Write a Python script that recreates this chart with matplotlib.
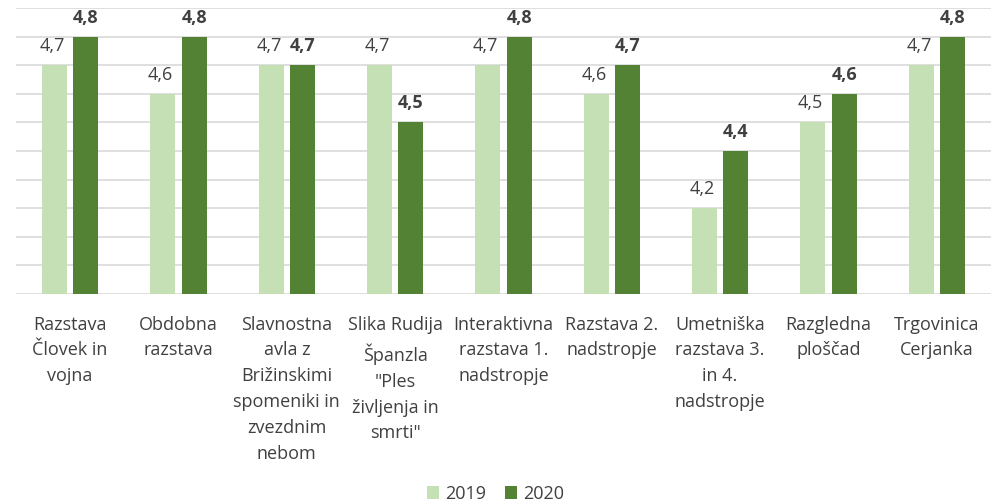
import matplotlib.pyplot as plt
import numpy as np

plt.rcParams['font.family'] = ['Open Sans', 'DejaVu Sans']

categories = ["Razstava\nČlovek in\nvojna", "Obdobna\nrazstava",
              "Slavnostna\navla z\nBrižinskimi\nspomeniki in\nzvezdnim\nnebom",
              "Slika Rudija\nŠpanzla\n\"Ples\nživljenja in\nsmrti\"",
              "Interaktivna\nrazstava 1.\nnadstropje", "Razstava 2.\nnadstropje",
              "Umetniška\nrazstava 3.\nin 4.\nnadstropje", "Razgledna\nploščad",
              "Trgovinica\nCerjanka"]
v2019 = [4.7, 4.6, 4.7, 4.7, 4.7, 4.6, 4.2, 4.5, 4.7]
v2020 = [4.8, 4.8, 4.7, 4.5, 4.8, 4.7, 4.4, 4.6, 4.8]
years = ["2019", "2020"]

c19 = "#C5E0B4"
c20 = "#548235"
txt = "#404040"

fig = plt.figure(figsize=(9.91, 5.04), dpi=100)
ax = fig.add_axes([16/991, 210/504, 975/991, 286/504])

x = np.arange(len(categories))
w = 0.23
off = 0.145
b1 = ax.bar(x - off, np.array(v2019) - 3.9, w, bottom=3.9, color=c19, label=years[0], zorder=2)
b2 = ax.bar(x + off, np.array(v2020) - 3.9, w, bottom=3.9, color=c20, label=years[1], zorder=2)

for xi, v in zip(x, v2019):
    ax.text(xi - off - 0.02, v + 0.035, f"{v:.1f}".replace(".", ","), ha="center", va="bottom",
            fontsize=13, color=txt)
for xi, v in zip(x, v2020):
    ax.text(xi + off, v + 0.035, f"{v:.1f}".replace(".", ","), ha="center", va="bottom",
            fontsize=13, color=txt, fontweight="bold")

ax.set_ylim(3.9, 4.9)
ax.set_xlim(-0.5, len(categories) - 0.5)
ax.set_yticks(np.arange(3.9, 4.91, 0.1))
ax.yaxis.grid(True, color="#D9D9D9", linewidth=1.2, zorder=0)
ax.tick_params(axis="y", left=False, labelleft=False)
ax.tick_params(axis="x", bottom=False, pad=12)
ax.set_xticks(x)
ax.set_xticklabels(categories, fontsize=13, color=txt, linespacing=1.56, va="top")
for s in ax.spines.values():
    s.set_visible(False)

fig.legend(handles=[b1, b2], labels=years, loc="lower center", bbox_to_anchor=(0.5, -0.03),
           ncol=2, frameon=False, fontsize=13, labelcolor=txt, handlelength=0.7,
           handleheight=0.7, handletextpad=0.35, columnspacing=1.0)

fig.savefig("out.png", dpi=100)
